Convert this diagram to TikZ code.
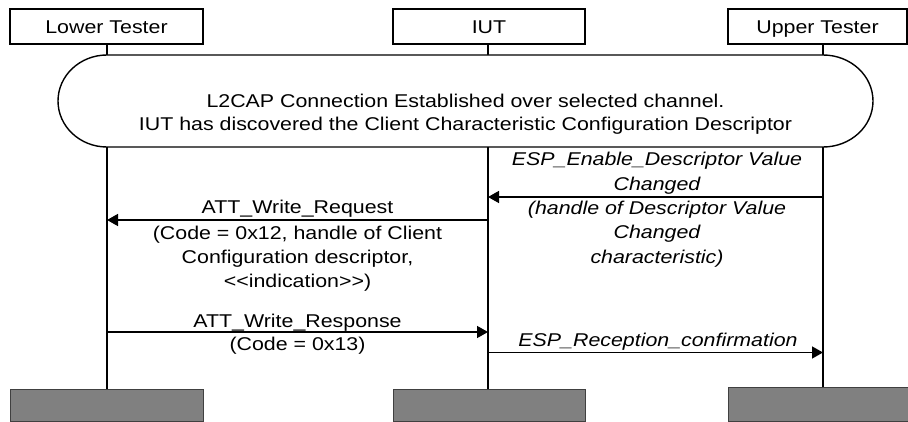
\documentclass[tikz,border=0pt]{standalone}
\usepackage{fontspec}
\setmainfont[FakeStretch=1.155]{Liberation Sans}
\usetikzlibrary{arrows.meta}
\tikzset{
  every node/.style={font=\fontsize{18.5}{22}\selectfont, inner sep=0pt},
  headbox/.style={draw, line width=1.3pt, fill=white, minimum height=35pt, text height=14.5pt, text depth=0pt},
  footbox/.style={draw=black!75, line width=1pt, fill=black!50},
  lifeline/.style={line width=1.8pt},
  msg/.style={line width=1.5pt, -{Triangle[length=11pt,width=12pt]}},
  lbl/.style={anchor=base},
  ilbl/.style={anchor=base, font=\fontsize{18.5}{22}\selectfont\itshape},
  condition/.style={line width=1.4pt, fill=white}
}
\begin{document}
\begin{tikzpicture}[x=1pt,y=1pt]
\useasboundingbox (0,0) rectangle (908,-422);
% header boxes
\node[headbox, minimum width=193pt] (lt) at (106.5,-26.5) {Lower Tester};
\node[headbox, minimum width=192pt] (iut) at (489,-26.5) {IUT};
\node[headbox, minimum width=179pt] (ut) at (817.5,-26.5) {Upper Tester};
% footer boxes
\node[footbox, minimum width=193pt, minimum height=32pt] (ltf) at (106.5,-405) {};
\node[footbox, minimum width=192pt, minimum height=32pt] (iutf) at (489,-405) {};
\node[footbox, minimum width=180pt, minimum height=34pt] (utf) at (818,-404) {};
% lifeline coordinates
\coordinate (ltA) at (107,-44);  \coordinate (ltB) at (107,-55);
\coordinate (ltC) at (107,-147); \coordinate (ltD) at (107,-389);
\coordinate (iuA) at (488,-44);  \coordinate (iuB) at (488,-55);
\coordinate (iuC) at (488,-147); \coordinate (iuD) at (488,-389);
\coordinate (utA) at (823,-44);  \coordinate (utB) at (823,-55);
\coordinate (utC) at (823,-147); \coordinate (utD) at (823,-387);
\draw[lifeline] (ltA) -- (ltB) (ltC) -- (ltD);
\draw[lifeline] (iuA) -- (iuB) (iuC) -- (iuD);
\draw[lifeline] (utA) -- (utB) (utC) -- (utD);
% condition
\draw[condition] (ltB) -- (utB) arc[start angle=90, end angle=-90, x radius=50, y radius=46]
  -- (ltC) arc[start angle=270, end angle=90, x radius=49, y radius=46] -- cycle;
\node[lbl] (c1) at (465.5,-107.5) {L2CAP Connection Established over selected channel.};
\node[lbl] (c2) at (465.5,-130.8) {IUT has discovered the Client Characteristic Configuration Descriptor};
% message 1
\coordinate (m1s) at (823,-197); \coordinate (m1e) at (488,-197);
\draw[msg] (m1s) -- (m1e);
\node[ilbl] (m1a) at (657,-166) {ESP\_Enable\_Descriptor Value};
\node[ilbl] (m1b) at (657,-190.5) {Changed};
\node[ilbl] (m1c) at (657,-214.5) {(handle of Descriptor Value};
\node[ilbl] (m1d) at (657,-239) {Changed};
\node[ilbl] (m1e2) at (657,-263.5) {characteristic)};
% message 2
\coordinate (m2s) at (488,-220); \coordinate (m2e) at (107,-220);
\draw[msg] (m2s) -- (m2e);
\node[lbl] (m2a) at (297.5,-214) {ATT\_Write\_Request};
\node[lbl] (m2b) at (297.5,-239.5) {(Code = 0x12, handle of Client};
\node[lbl] (m2c) at (297.5,-263.5) {Configuration descriptor,};
\node[lbl] (m2d) at (297.5,-287.5) {<\kern0pt<indication>\kern0pt>)};
% message 3
\coordinate (m3s) at (107,-332); \coordinate (m3e) at (488,-332);
\draw[msg] (m3s) -- (m3e);
\node[lbl] (m3a) at (297.5,-327.5) {ATT\_Write\_Response};
\node[lbl] (m3b) at (297.5,-350) {(Code = 0x13)};
% message 4
\coordinate (m4s) at (488,-352.5); \coordinate (m4e) at (823,-352.5);
\draw[msg] (m4s) -- (m4e);
\node[ilbl] (m4a) at (658,-346.5) {ESP\_Reception\_confirmation};
\end{tikzpicture}
\end{document}
